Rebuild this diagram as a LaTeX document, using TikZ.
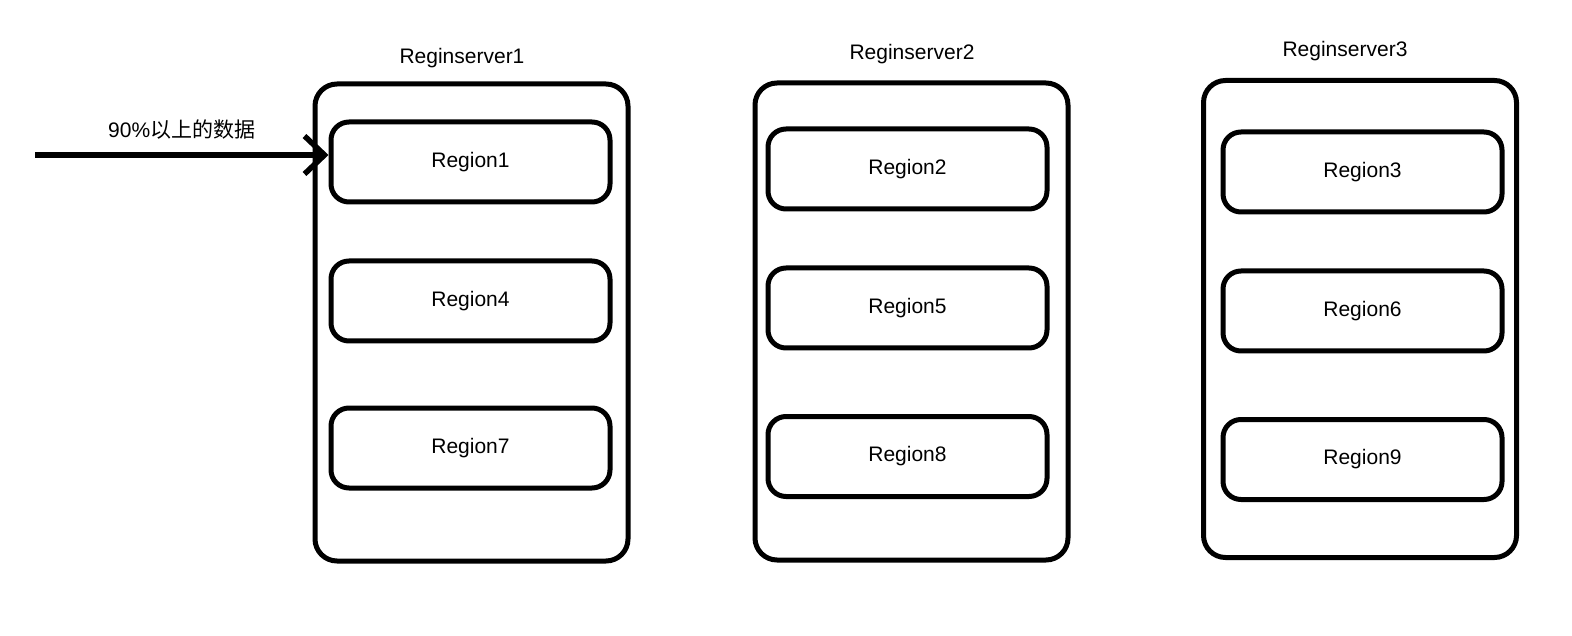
\documentclass[tikz,border=0pt]{standalone}
\usepackage{fontspec}
\setmainfont{Liberation Sans}
\newfontfamily\cjk{Noto Sans CJK SC}
\usetikzlibrary{arrows.meta}

\begin{document}
\begin{tikzpicture}[x=1pt,y=-1pt,
    server/.style={draw,line width=5pt,rounded corners=22pt,minimum width=313pt,minimum height=477pt},
    region/.style={draw,line width=5pt,rounded corners=18pt,minimum width=279pt,minimum height=80pt,font=\fontsize{21}{25}\selectfont},
    title/.style={font=\fontsize{21}{25}\selectfont}]
        \useasboundingbox (0,0) rectangle (1572,636);

        % Draw the region servers
        \node[server] (S1) at (471.5,322.5) {};
        \node[server] (S2) at (911.5,321.5) {};
        \node[server] (S3) at (1360,319) {};

        % Server names
        \node[title] (T1) at (462,58) {Reginserver1};
        \node[title] (T2) at (912,54) {Reginserver2};
        \node[title] (T3) at (1345,51) {Reginserver3};

        % Draw the regions
        \node[region] (R1) at (470.5,162) {Region1};
        \node[region] (R4) at (470.5,301) {Region4};
        \node[region] (R7) at (470.5,448) {Region7};
        \node[region] (R2) at (907.5,169) {Region2};
        \node[region] (R5) at (907.5,308) {Region5};
        \node[region] (R8) at (907.5,456.5) {Region8};
        \node[region] (R3) at (1362.5,172) {Region3};
        \node[region] (R6) at (1362.5,311) {Region6};
        \node[region] (R9) at (1362.5,459.5) {Region9};

        % Incoming data
        \coordinate (In) at (35,155);
        \draw[line width=6pt,-{Straight Barb[length=20pt,width=38pt,line width=5.5pt]}] (In) -- (In -| R1.west)
            node[midway,above=9pt,font=\fontsize{21}{25}\selectfont] (D) {90\%\cjk 以上的数据};

\end{tikzpicture}
\end{document}
